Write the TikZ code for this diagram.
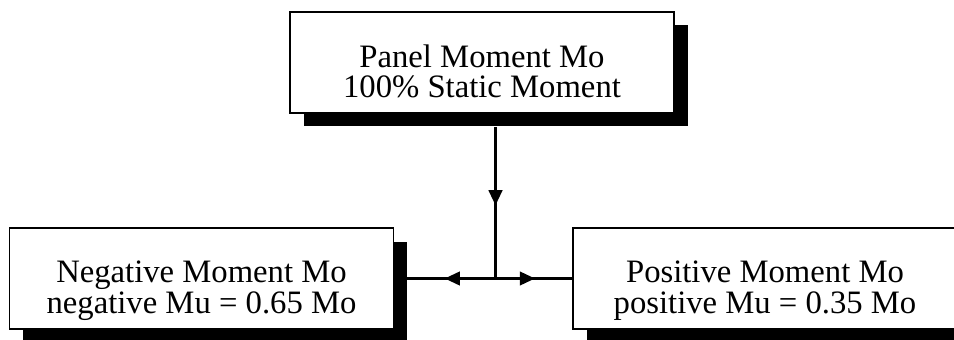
\documentclass[tikz,border=0pt]{standalone}
\usepackage{fontspec}
\setmainfont{Liberation Serif}
\usetikzlibrary{arrows.meta,decorations.markings}

\newcommand{\twolines}[2]{\raisebox{-11.8pt}[0pt][0pt]{%
    \begin{tabular}{@{}c@{}}#1\\#2\end{tabular}}}

\begin{document}
\begin{tikzpicture}[font=\fontsize{18.6pt}{17pt}\selectfont,x=1cm,y=1cm,
    >={Triangle[length=0.31cm,width=0.26cm]},
    momentbox/.style={draw,line width=1.1pt,fill=white,
        minimum width=7.68cm,minimum height=2.02cm,inner sep=0pt},
    shadowbox/.style={fill=black,minimum width=7.68cm,minimum height=2.02cm,
        inner sep=0pt},
    link/.style={line width=2.2pt},
    midarrow/.style={postaction={decorate},decoration={markings,
        mark=at position #1 with {\arrow{>}}}}]
    \clip (0,0) rectangle (19.08,6.78);

    % shadows first
    \node[shadowbox] (panelsh) at (9.91,5.26) {};
    \node[shadowbox] (negsh) at (4.30,0.94) {};
    \node[shadowbox] (possh) at (15.57,0.94) {};

    \node[momentbox] (panel) at (9.64,5.53)
        {\twolines{Panel Moment Mo}{100\% Static Moment}};
    \node[momentbox] (neg) at (4.03,1.21)
        {\twolines{Negative Moment Mo}{negative Mu = 0.65 Mo}};
    \node[momentbox] (pos) at (15.30,1.21)
        {\twolines{Positive Moment Mo}{positive Mu = 0.35 Mo}};

    \coordinate (split) at (panelsh.south |- neg.east);

    \draw[link,midarrow=0.52] (panelsh.south) -- (split);
    \draw[link,midarrow=0.58] (split) -- (negsh.east |- neg.east);
    \draw[link,midarrow=0.52] (split) -- (pos.west);
\end{tikzpicture}
\end{document}
